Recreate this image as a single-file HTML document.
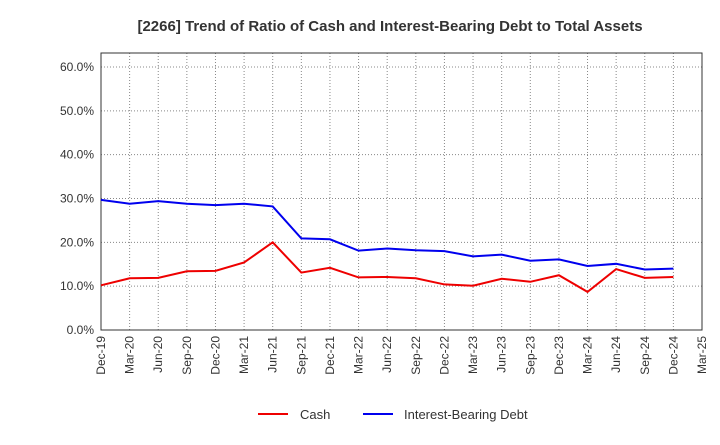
<!DOCTYPE html>
<html><head><meta charset="utf-8"><style>
body{margin:0;background:#fff;font-family:"Liberation Sans",sans-serif;}
svg text{font-family:"Liberation Sans",sans-serif;}
</style></head><body>
<svg id="chart" width="720" height="440">
<text x="390" y="31" text-anchor="middle" font-size="15" font-weight="bold" fill="#333">[2266]  Trend of Ratio of Cash and Interest-Bearing Debt to Total Assets</text>
<g id="grid"></g><g id="axes"></g><g id="series"></g>
<g>
<line x1="258" y1="414" x2="288" y2="414" stroke="#e00" stroke-width="2"/>
<text x="300" y="419" font-size="13" fill="#333">Cash</text>
<line x1="363" y1="414" x2="393" y2="414" stroke="#00e" stroke-width="2"/>
<text x="404" y="419" font-size="13" fill="#333">Interest-Bearing Debt</text>
</g>
</svg>
<script>
const categories=["Dec-19","Mar-20","Jun-20","Sep-20","Dec-20","Mar-21","Jun-21","Sep-21","Dec-21","Mar-22","Jun-22","Sep-22","Dec-22","Mar-23","Jun-23","Sep-23","Dec-23","Mar-24","Jun-24","Sep-24","Dec-24","Mar-25"];
const cashValues=[10.2,11.8,11.9,13.4,13.5,15.4,20.0,13.1,14.2,12.0,12.1,11.8,10.4,10.1,11.7,11.0,12.5,8.7,13.9,11.9,12.1];
const debtValues=[29.7,28.8,29.4,28.8,28.5,28.8,28.2,20.9,20.7,18.1,18.6,18.2,18.0,16.8,17.2,15.8,16.1,14.6,15.1,13.8,14.0];
const yTicks=[0,10,20,30,40,50,60];
const NS="http://www.w3.org/2000/svg";
const L=101,R=702,T=53,B=330,yMax=63.2;
const xs=i=>L+(R-L)*i/(categories.length-1);
const ys=v=>B-(B-T)*v/yMax;
function mk(tag,attrs,parent){const e=document.createElementNS(NS,tag);for(const k in attrs)e.setAttribute(k,attrs[k]);document.getElementById(parent).appendChild(e);return e;}
const fr=mk("rect",{x:L,y:T,width:R-L,height:B-T,fill:"none",stroke:"#333","stroke-width":1},"axes");


yTicks.forEach(v=>{
  const g=mk("line",{x1:L,x2:R,y1:ys(v),y2:ys(v),stroke:"#888","stroke-dasharray":"1,2","stroke-width":1},"grid");
  
  
  const t=mk("text",{x:L-7,y:ys(v)+4,"text-anchor":"end","font-size":12,fill:"#333"},"axes");
  t.textContent=v.toFixed(1)+"%";
  
  
});
categories.forEach((c,i)=>{
  const x=xs(i);
  const g=mk("line",{x1:x,x2:x,y1:T,y2:B,stroke:"#888","stroke-dasharray":"1,2","stroke-width":1},"grid");
  
  
  const t=mk("text",{x:x+4,y:B+6,"text-anchor":"end","font-size":12,fill:"#333",transform:`rotate(-90 ${x+4} ${B+6})`},"axes");
  t.textContent=c;
  
  
});
function line(vals,color,name){
  const p=mk("polyline",{points:vals.map((v,i)=>xs(i)+","+ys(v)).join(" "),fill:"none",stroke:color,"stroke-width":2},"series");
  
  
}
line(cashValues,"#e00","cash-line");
line(debtValues,"#00e","debt-line");
</script>
</body></html>
